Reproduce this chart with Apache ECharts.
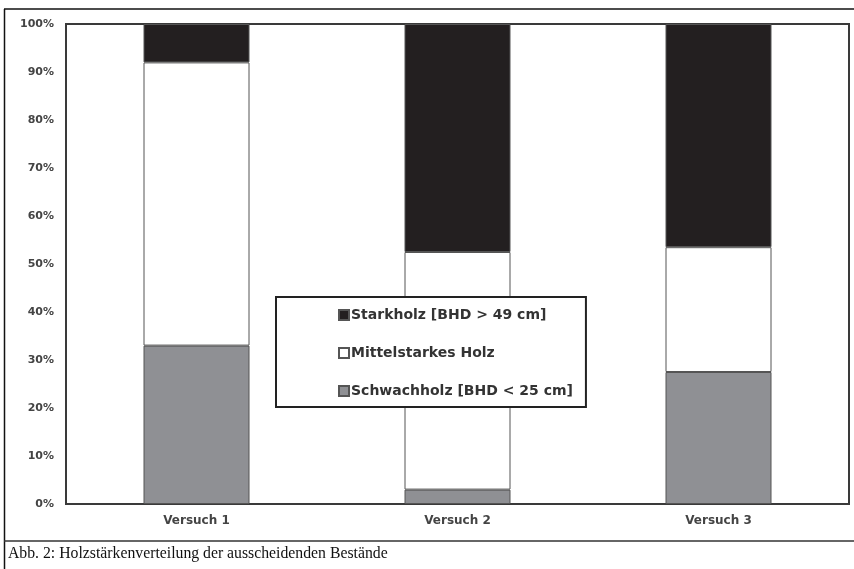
<!DOCTYPE html>
<html>
<head>
<meta charset="utf-8">
<script src="https://cdn.jsdelivr.net/npm/echarts@6/dist/echarts.min.js"></script>
<style>
  html, body { margin: 0; padding: 0; background: #fff; }
  #chart { width: 854px; height: 569px; }
</style>
</head>
<body>
<div id="chart"></div>
<script>
// Trials on the category axis
const categories = ['Versuch 1', 'Versuch 2', 'Versuch 3'];

// Share of each timber diameter class (%)
const schwachholz = [33, 3, 27.5];
const mittelstark = [59, 49.5, 26];
const starkholz = [8, 47.5, 46.5];

const seriesNames = {
  stark: 'Starkholz [BHD > 49 cm]',
  mittel: 'Mittelstarkes Holz',
  schwach: 'Schwachholz [BHD < 25 cm]'
};

const caption = 'Abb. 2: Holzstärkenverteilung der ausscheidenden Bestände';

const chart = echarts.init(document.getElementById('chart'), null, { renderer: 'canvas' });

const barBorder = { borderColor: '#555', borderWidth: 1 };
const sansFont = 'DejaVu Sans, Arial, sans-serif';

chart.setOption({
  animation: false,
  backgroundColor: '#fff',
  grid: {
    left: 66, right: 5, top: 24, bottom: 65,
    show: true, borderColor: '#3a3a3a', borderWidth: 2, backgroundColor: 'transparent'
  },
  xAxis: {
    type: 'category',
    data: categories,
    axisLine: { show: false },
    axisTick: { show: false },
    axisLabel: {
      margin: 11, color: '#444', fontWeight: 'bold', fontSize: 12, fontFamily: sansFont
    }
  },
  yAxis: {
    type: 'value',
    min: 0, max: 100, interval: 10,
    axisLine: { show: false },
    axisTick: { show: false },
    splitLine: { show: false },
    axisLabel: {
      formatter: '{value}%', margin: 12, color: '#444', fontWeight: 'bold', fontSize: 11,
      fontFamily: sansFont
    }
  },
  legend: {
    orient: 'vertical',
    left: 276, top: 297,
    data: [seriesNames.stark, seriesNames.mittel, seriesNames.schwach],
    icon: 'rect',
    itemWidth: 10, itemHeight: 10,
    itemGap: 24,
    padding: [11, 13, 9, 62],
    backgroundColor: '#fff',
    borderColor: '#222', borderWidth: 2,
    textStyle: {
      color: '#333', fontWeight: 'bold', fontSize: 14, fontFamily: sansFont,
      padding: [0, 0, 0, -3]
    }
  },
  series: [
    {
      name: seriesNames.schwach, type: 'bar', stack: 'total', data: schwachholz,
      barWidth: 106,
      itemStyle: Object.assign({ color: '#8f9094' }, barBorder)
    },
    {
      name: seriesNames.mittel, type: 'bar', stack: 'total', data: mittelstark,
      barWidth: 106,
      itemStyle: Object.assign({ color: '#ffffff' }, barBorder)
    },
    {
      name: seriesNames.stark, type: 'bar', stack: 'total', data: starkholz,
      barWidth: 106,
      itemStyle: Object.assign({ color: '#231f20' }, barBorder)
    }
  ],
  graphic: [
    { type: 'line', shape: { x1: 4, y1: 9, x2: 854, y2: 9 }, style: { stroke: '#111', lineWidth: 1.5 } },
    { type: 'line', shape: { x1: 4.5, y1: 9, x2: 4.5, y2: 569 }, style: { stroke: '#111', lineWidth: 1.5 } },
    { type: 'line', shape: { x1: 4, y1: 541, x2: 854, y2: 541 }, style: { stroke: '#333', lineWidth: 1.5 } },
    {
      type: 'text', left: 8, top: 546,
      style: {
        text: caption, fill: '#111', fontSize: 15.75,
        fontFamily: 'Liberation Serif, Times New Roman, serif'
      }
    }
  ]
});
</script>
</body>
</html>
